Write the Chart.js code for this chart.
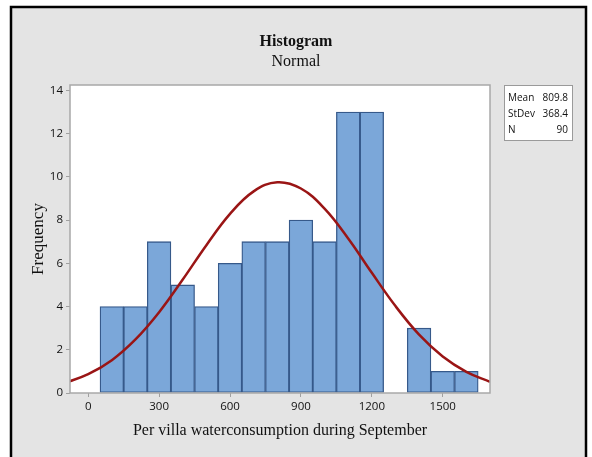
<!DOCTYPE html>
<html>
<head>
<meta charset="utf-8">
<script src="https://cdn.jsdelivr.net/npm/chart.js@4.4.1/dist/chart.umd.min.js"></script>
<style>
  html, body { margin: 0; padding: 0; background: #fff; }
  #wrap { position: relative; width: 592px; height: 457px; }
</style>
</head>
<body>
<div id="wrap"><canvas id="histChart" width="592" height="457"></canvas></div>
<script>
// bins (centre of each 100-wide bin) and counts
const binCenters = [100, 200, 300, 400, 500, 600, 700, 800, 900, 1000, 1100, 1200, 1300, 1400, 1500, 1600];
const binCounts  = [4, 4, 7, 5, 4, 6, 7, 7, 8, 7, 13, 13, 0, 3, 1, 1];

// fitted normal curve
const curveX = [-100, 0, 100, 200, 300, 400, 500, 600, 700, 800, 900, 1000, 1100, 1200, 1300, 1400, 1500, 1600, 1700];
const curveY = [0.46, 0.87, 1.52, 2.48, 3.74, 5.25, 6.84, 8.29, 9.33, 9.75, 9.46, 8.53, 7.15, 5.56, 4.02, 2.70, 1.69, 0.98, 0.52];

const xTicks = [0, 300, 600, 900, 1200, 1500];
const yTicks = [0, 2, 4, 6, 8, 10, 12, 14];

const statLabels = ['Mean', 'StDev', 'N'];
const statValues = ['809.8', '368.4', '90'];

const titleText = 'Histogram';
const subtitleText = 'Normal';

const serif = "'Liberation Serif', 'Times New Roman', serif";
const sans = "'Open Sans', 'Liberation Sans', sans-serif";

// gray frame, plot box, titles and the stats box
const decor = {
    id: 'decor',
    beforeDraw(chart) {
        const { ctx, chartArea: a } = chart;
        ctx.save();
        ctx.fillStyle = '#fff';
        ctx.fillRect(0, 0, chart.width, chart.height);
        ctx.fillStyle = '#e4e4e4';
        ctx.fillRect(11, 7, 575, chart.height - 7);
        ctx.strokeStyle = '#000';
        ctx.lineWidth = 2.5;
        ctx.beginPath();
        ctx.moveTo(11, chart.height);
        ctx.lineTo(11, 7);
        ctx.lineTo(586, 7);
        ctx.lineTo(586, chart.height);
        ctx.stroke();
        ctx.fillStyle = '#fff';
        ctx.fillRect(a.left, a.top, a.right - a.left, a.bottom - a.top);

        ctx.fillStyle = '#111';
        ctx.textAlign = 'center';
        ctx.textBaseline = 'middle';
        ctx.font = 'bold 16px ' + serif;
        ctx.fillText(titleText, 296, 42);
        ctx.font = '16px ' + serif;
        ctx.fillText(subtitleText, 296, 62);

        // stats box
        ctx.fillStyle = '#fff';
        ctx.fillRect(504, 85, 68, 55);
        ctx.strokeStyle = '#9a9a9a';
        ctx.lineWidth = 1;
        ctx.strokeRect(504.5, 85.5, 68, 55);
        ctx.fillStyle = '#111';
        ctx.font = '10px ' + sans;
        statLabels.forEach((lab, i) => {
            const y = 98 + i * 16;
            ctx.textAlign = 'left';
            ctx.fillText(lab, 508, y);
            ctx.textAlign = 'right';
            ctx.fillText(statValues[i], 568, y);
        });
        ctx.restore();
    },
    afterDraw(chart) {
        const { ctx, chartArea: a } = chart;
        ctx.save();
        ctx.strokeStyle = '#a8a8a8';
        ctx.lineWidth = 1.5;
        ctx.strokeRect(a.left, a.top, a.right - a.left, a.bottom - a.top);
        ctx.restore();
    }
};

new Chart(document.getElementById('histChart'), {
    data: {
        datasets: [{
            type: 'line',
            data: curveX.map((x, i) => ({ x: x, y: curveY[i] })),
            borderColor: '#9a1515',
            borderWidth: 2.5,
            pointRadius: 0,
            tension: 0.4,
            fill: false,
            order: 0
        }, {
            type: 'bar',
            data: binCenters.map((x, i) => ({ x: x, y: binCounts[i] })),
            backgroundColor: '#7ba7d9',
            borderColor: '#36598a',
            borderWidth: 1.3,
            borderSkipped: false,
            barPercentage: 1,
            categoryPercentage: 1,
            order: 1
        }]
    },
    options: {
        responsive: false,
        animation: false,
        events: [],
        layout: { padding: { top: 85, right: 102, left: 0, bottom: 0 } },
        plugins: {
            legend: { display: false },
            tooltip: { enabled: false }
        },
        scales: {
            x: {
                type: 'linear',
                min: -77,
                max: 1700,
                offset: false,
                afterFit: (s) => { s.height = 64; },
                afterBuildTicks: (s) => { s.ticks = xTicks.map(v => ({ value: v })); },
                grid: { drawOnChartArea: false, offset: false, tickLength: 4, color: '#a0a0a0' },
                border: { display: false },
                ticks: {
                    font: { family: sans, size: 11.5 },
                    color: '#111',
                    padding: 3,
                    maxRotation: 0,
                    callback: (v) => String(v)
                },
                title: {
                    display: true,
                    text: 'Per villa waterconsumption during September',
                    font: { family: serif, size: 16 },
                    color: '#111',
                    padding: { top: 0, bottom: 17 }
                }
            },
            y: {
                min: 0,
                max: 14.25,
                afterFit: (s) => { s.width = 70; },
                afterBuildTicks: (s) => { s.ticks = yTicks.map(v => ({ value: v })); },
                grid: { drawOnChartArea: false, tickLength: 4, color: '#a0a0a0' },
                border: { display: false },
                ticks: {
                    font: { family: sans, size: 11.5 },
                    color: '#111',
                    padding: 3,
                    callback: (v) => String(v)
                },
                title: {
                    display: true,
                    text: 'Frequency',
                    font: { family: serif, size: 17 },
                    color: '#111',
                    padding: { top: 28, bottom: 0 }
                }
            }
        }
    },
    plugins: [decor]
});
</script>
</body>
</html>
